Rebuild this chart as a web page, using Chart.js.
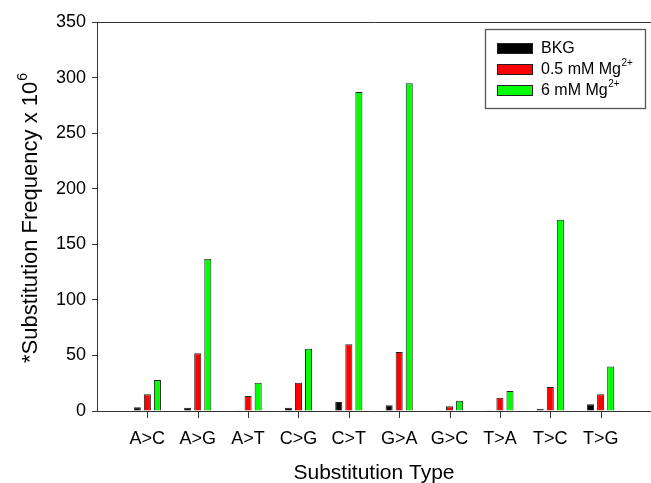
<!DOCTYPE html>
<html>
<head>
<meta charset="utf-8">
<script src="https://cdn.jsdelivr.net/npm/chart.js@4.4.1/dist/chart.umd.min.js"></script>
<style>
  html, body { margin: 0; padding: 0; background: #fff; overflow: hidden; }
  #wrap { width: 651px; height: 483px; }
</style>
</head>
<body>
<div id="wrap"><canvas id="c" width="651" height="483"></canvas></div>
<script>
const categories = ['A>C','A>G','A>T','C>G','C>T','G>A','G>C','T>A','T>C','T>G'];
const bkg  = [3.3, 3, 0.6, 3, 8.1, 5.2, 0.6, 0.6, 2.1, 6];
const mg05 = [15, 52, 13.5, 25.5, 60, 53, 4.3, 12, 21.7, 15];
const mg6  = [28, 137, 25.5, 56, 287, 295, 9.3, 18, 172, 40];
const yTicks = [0, 50, 100, 150, 200, 250, 300, 350];
const seriesNames = ['BKG', '0.5 mM Mg', '6 mM Mg'];
const seriesSup = ['', '2+', '2+'];
const seriesColors = ['#000000', '#ff0000', '#00ff00'];

// pad categories with empty slots at both ends
const labels = [''].concat(categories, ['']);
const pad = arr => [null].concat(arr, [null]);

const FONT = '"Liberation Sans", Arial, sans-serif';
const AXIS = '#333333';

const framePlugin = {
  id: 'frame',
  afterDraw(chart) {
    const ctx = chart.ctx;
    const a = chart.chartArea;
    const xs = chart.scales.x;
    ctx.save();
    ctx.strokeStyle = AXIS;
    ctx.lineWidth = 1;
    // top frame line
    ctx.beginPath();
    ctx.moveTo(a.left, Math.round(a.top) + 0.5);
    ctx.lineTo(a.right + 2, Math.round(a.top) + 0.5);
    ctx.stroke();
    // x tick marks at category centres (from the library's scale)
    const yb = Math.round(xs.top);
    for (let i = 1; i < labels.length - 1; i++) {
      const px = Math.round(xs.getPixelForValue(i));
      ctx.fillStyle = AXIS;
      ctx.fillRect(px, yb, 1, 7);
    }

    // y title with superscript
    ctx.fillStyle = '#000';
    ctx.translate(37, (a.top + a.bottom) / 2 + 2);
    ctx.rotate(-Math.PI / 2);
    ctx.font = '22px ' + FONT;
    const main = '*Substitution Frequency x 10';
    const w1 = ctx.measureText(main).width;
    ctx.font = '14px ' + FONT;
    const w2 = ctx.measureText('6').width;
    const start = -(w1 + w2) / 2;
    ctx.font = '22px ' + FONT;
    ctx.textBaseline = 'alphabetic';
    ctx.textAlign = 'left';
    ctx.fillText(main, start, 0);
    ctx.font = '14px ' + FONT;
    ctx.fillText('6', start + w1 + 1, -10);
    ctx.restore();

    // legend
    ctx.save();
    const bx = 485.5, by = 29.5, bw = 160, bh = 79;
    ctx.fillStyle = '#fff';
    ctx.fillRect(bx, by, bw, bh);
    ctx.strokeStyle = '#555';
    ctx.lineWidth = 1.3;
    ctx.strokeRect(bx, by, bw, bh);
    chart.data.datasets.forEach((ds, i) => {
      const sy = 43 + i * 21;
      ctx.fillStyle = ds.backgroundColor;
      ctx.fillRect(497, sy, 36, 11);
      ctx.strokeStyle = '#222';
      ctx.lineWidth = 1;
      ctx.strokeRect(497.5, sy + 0.5, 35, 10);
      ctx.fillStyle = '#000';
      ctx.font = '16px ' + FONT;
      ctx.textBaseline = 'middle';
      ctx.textAlign = 'left';
      const name = seriesNames[i];
      ctx.fillText(name, 541, sy + 6);
      if (seriesSup[i]) {
        const w = ctx.measureText(name).width;
        ctx.font = '10px ' + FONT;
        ctx.fillText(seriesSup[i], 541 + w + 0.5, sy - 0.5);
      }
    });
    ctx.restore();
  }
};

new Chart(document.getElementById('c'), {
  type: 'bar',
  data: {
    labels: labels,
    datasets: [
      { label: 'BKG', data: pad(bkg), backgroundColor: seriesColors[0], borderColor: '#222', borderWidth: 1 },
      { label: '0.5 mM Mg2+', data: pad(mg05), backgroundColor: seriesColors[1], borderColor: '#222', borderWidth: 1 },
      { label: '6 mM Mg2+', data: pad(mg6), backgroundColor: seriesColors[2], borderColor: '#222', borderWidth: 1 }
    ]
  },
  options: {
    responsive: false,
    animation: false,
    devicePixelRatio: 1,
    layout: { padding: { top: 22, right: -1, left: 0, bottom: 0 } },
    categoryPercentage: 0.6,
    barPercentage: 0.7,
    plugins: { legend: { display: false }, tooltip: { enabled: false } },
    scales: {
      x: {
        type: 'category',
        offset: false,
        grid: {
          offset: false,
          drawOnChartArea: false,
          drawTicks: true,
          tickLength: 6,
          tickColor: 'rgba(0,0,0,0)'
        },
        border: { display: true, color: AXIS, width: 1 },
        ticks: { color: '#000', font: { family: FONT, size: 18 }, padding: 11, autoSkip: false, maxRotation: 0 },
        title: { display: true, text: 'Substitution Type', color: '#000', font: { family: FONT, size: 21 }, padding: { top: 0, bottom: -3 } },
        afterFit: s => { s.height = 72; s.paddingLeft = 0; s.paddingRight = 0; }
      },
      y: {
        min: 0, max: 350,
        afterBuildTicks: s => { s.ticks = yTicks.map(v => ({ value: v })); },
        grid: { drawOnChartArea: false, drawTicks: true, tickLength: 5, color: AXIS },
        border: { display: true, color: AXIS, width: 1 },
        ticks: { color: '#000', font: { family: FONT, size: 18 }, padding: 6 },
        afterFit: s => { s.width = 97; s.paddingTop = 0; s.paddingBottom = 0; }
      }
    }
  },
  plugins: [framePlugin]
});
</script>
</body>
</html>
